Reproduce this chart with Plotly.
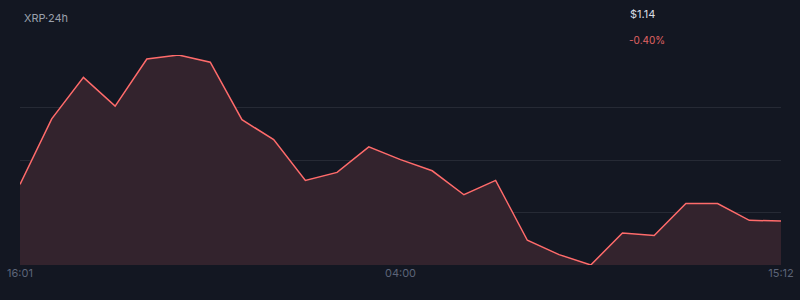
import plotly.graph_objects as go

title_text = "XRP·24h"
price_text = "$1.14"
change_text = "-0.40%"

prices = [1.1446, 1.1528, 1.1580, 1.1544, 1.1603, 1.1608, 1.1599, 1.1527, 1.1502,
          1.1451, 1.1461, 1.1493, 1.1477, 1.1463, 1.1433, 1.1451, 1.1376, 1.1358,
          1.1345, 1.1385, 1.1382, 1.1422, 1.1422, 1.1401, 1.1400]
tick_positions = [0, 12, 24]
tick_labels = ["16:01", "04:00", "15:12"]

x = list(range(len(prices)))
ymin, ymax = min(prices), max(prices)
grid_vals = [ymin + k * (ymax - ymin) / 4 for k in (1, 2, 3)]

bg = "#131722"
fig = go.Figure()
fig.add_trace(go.Scatter(
    x=x, y=prices, mode="lines",
    line=dict(color="#ff6b6b", width=1.5),
    fill="tozeroy", fillcolor="#33232d",
    hoverinfo="skip", showlegend=False,
))
fig.update_layout(
    width=800, height=300,
    paper_bgcolor=bg, plot_bgcolor=bg,
    margin=dict(l=20, r=19, t=55, b=35, autoexpand=False),
    font=dict(family="Inter, Roboto, sans-serif", size=11, color="#5c6478"),
    xaxis=dict(range=[0, len(prices) - 1], tickvals=tick_positions, ticktext=tick_labels,
               showgrid=False, zeroline=False, showline=False, ticks="", automargin=False,
               tickfont=dict(size=11, color="#5c6478")),
    yaxis=dict(range=[ymin, ymax], tickvals=grid_vals, showticklabels=False, automargin=False,
               showgrid=True, gridcolor="#262a35", gridwidth=1, zeroline=False,
               showline=False, ticks=""),
    annotations=[
        dict(text=title_text, xref="paper", yref="paper", x=0, xshift=2, y=1, yshift=37,
             xanchor="left", yanchor="middle", showarrow=False,
             font=dict(size=11, color="#9aa0ac")),
        dict(text=price_text, xref="paper", yref="paper", x=(628 - 20) / 761, y=1, yshift=41,
             xanchor="left", yanchor="middle", showarrow=False,
             font=dict(size=11, color="#d8dce4")),
        dict(text=change_text, xref="paper", yref="paper", x=(627 - 20) / 761, y=1, yshift=15,
             xanchor="left", yanchor="middle", showarrow=False,
             font=dict(size=10, color="#e06464")),
    ],
)
fig.write_html("out.html")
